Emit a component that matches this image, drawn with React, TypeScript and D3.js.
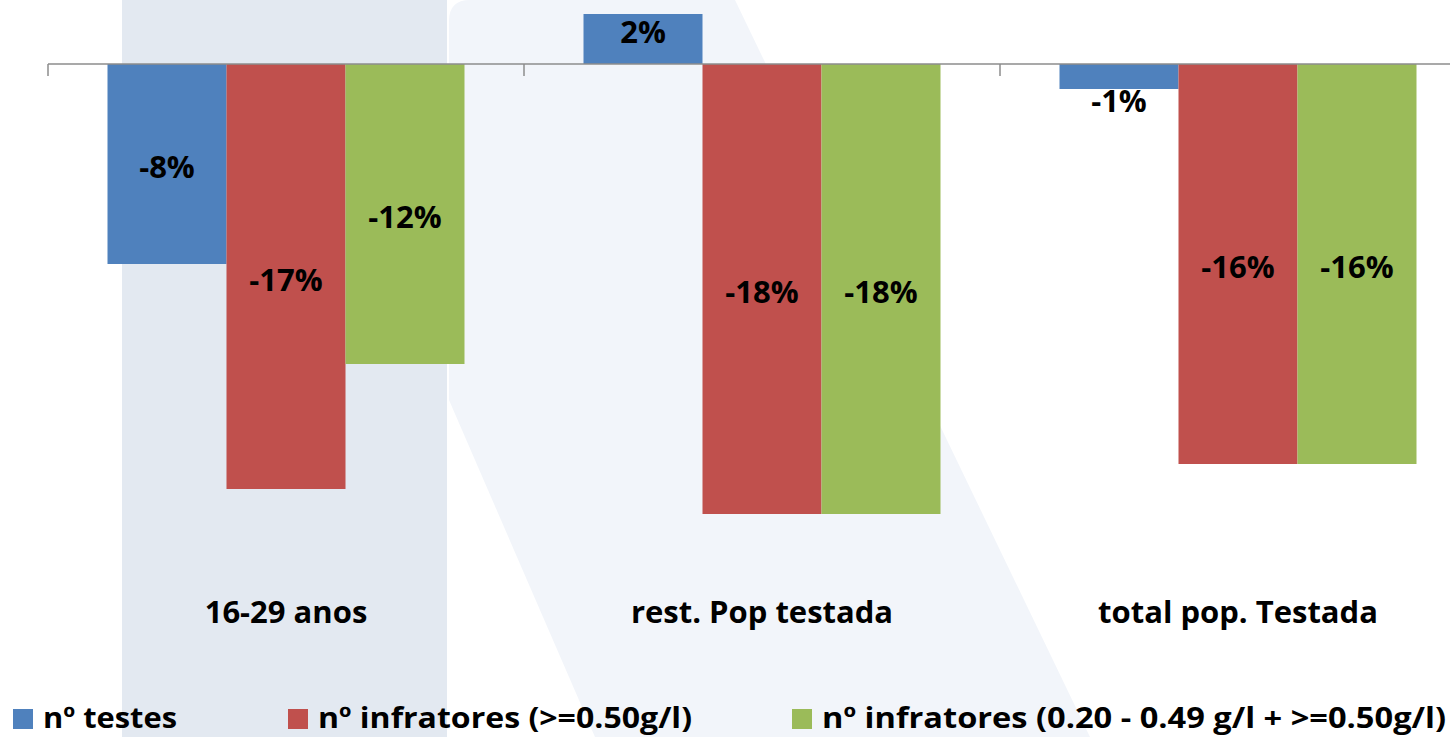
import React from "react";
import * as d3 from "d3";

// Variation by group (%)
const categories = ["16-29 anos", "rest. Pop testada", "total pop. Testada"];
const seriesNames = [
  "nº testes",
  "nº infratores (>=0.50g/l)",
  "nº infratores (0.20 - 0.49 g/l + >=0.50g/l)",
];
const testesValues = [-8, 2, -1];
const infratoresValues = [-17, -18, -16];
const infratoresTotalValues = [-12, -18, -16];
const seriesColors = ["#4f81bd", "#c0504d", "#9bbb59"];

const W = 1450;
const H = 737;
const FONT = "'Open Sans', 'DejaVu Sans', sans-serif";
const LABEL_SIZE = 31;

// layout
const plotLeft = 48;
const plotRight = 1476;
const zeroY = 64;
const pxPerPct = 25;
const categoryBaseline = 623;
const legendBaseline = 728;
const legendItems = [
  { x: 13, textLen: 134 },
  { x: 288, textLen: 374 },
  { x: 792, textLen: 624 },
];

export default function App() {
  const seriesValues = [testesValues, infratoresValues, infratoresTotalValues];

  const x0 = d3.scaleBand<string>().domain(categories).range([plotLeft, plotRight]).padding(0);
  const x1 = d3
    .scaleBand<number>()
    .domain(d3.range(seriesNames.length))
    .range([0, x0.bandwidth()])
    .paddingInner(0)
    .paddingOuter(0.5);
  const y = d3
    .scaleLinear()
    .domain([-20, 0])
    .range([zeroY + 20 * pxPerPct, zeroY]);

  const digitH = 0.714 * LABEL_SIZE;

  const bars: React.ReactNode[] = [];
  const labels: React.ReactNode[] = [];
  categories.forEach((cat, ci) => {
    seriesValues.forEach((vals, si) => {
      const v = vals[ci];
      const bx = (x0(cat) ?? 0) + (x1(si) ?? 0);
      const bw = x1.bandwidth();
      const yTop = Math.min(y(v), y(0));
      const yBot = Math.max(y(v), y(0));
      bars.push(
        <rect key={`b${ci}-${si}`} x={bx} y={yTop} width={bw} height={yBot - yTop} fill={seriesColors[si]} />
      );
      const h = yBot - yTop;
      let baseline: number;
      if (v > 0) {
        // inside end for the upward bar
        baseline = yTop + 7 + digitH;
      } else if (h < 40) {
        // too short: label just past the bar end
        baseline = yBot + 1 + digitH;
      } else {
        baseline = (yTop + yBot) / 2 + 3 + digitH / 2;
      }
      labels.push(
        <text
          key={`l${ci}-${si}`}
          x={bx + bw / 2}
          y={baseline}
          textAnchor="middle"
          fontFamily={FONT}
          fontWeight={700}
          fontSize={LABEL_SIZE}
          fill="#000"
        >
          {`${v}%`}
        </text>
      );
    });
  });

  return (
    <div style={{ position: "absolute", left: 0, top: 0 }}>
      <svg width={W} height={H} viewBox={`0 0 ${W} ${H}`} style={{ display: "block" }}>
        <rect x={0} y={0} width={W} height={H} fill="#ffffff" />
        {/* faint letter mark in the background */}
        <g>
          <path
            d="M 470 0 L 735 0 L 1090 737 L 595 737 L 449 400 L 449 21 Q 449 0 470 0 Z"
            fill="#f2f5fa"
          />
          <rect x={122} y={0} width={325} height={H} fill="#e3e9f1" />
        </g>

        {bars}

        {/* category axis */}
        <line x1={plotLeft} x2={W} y1={y(0)} y2={y(0)} stroke="#8c8c8c" strokeWidth={1.5} />
        {categories.map((c) => (
          <line
            key={`t-${c}`}
            x1={x0(c)}
            x2={x0(c)}
            y1={y(0)}
            y2={y(0) + 12}
            stroke="#8c8c8c"
            strokeWidth={1.5}
          />
        ))}

        {labels}

        {categories.map((c) => (
          <text
            key={`c-${c}`}
            x={(x0(c) ?? 0) + x0.bandwidth() / 2}
            y={categoryBaseline}
            textAnchor="middle"
            fontFamily={FONT}
            fontWeight={700}
            fontSize={31}
            fill="#000"
          >
            {c}
          </text>
        ))}

        {/* legend */}
        {seriesNames.map((name, i) => (
          <g key={`lg-${i}`}>
            <rect x={legendItems[i].x} y={709} width={20} height={20} fill={seriesColors[i]} />
            <text
              x={legendItems[i].x + 30}
              y={legendBaseline}
              fontFamily={FONT}
              fontWeight={700}
              fontSize={29}
              fill="#000"
              textLength={legendItems[i].textLen}
              lengthAdjust="spacingAndGlyphs"
            >
              {name}
            </text>
          </g>
        ))}
      </svg>
    </div>
  );
}
